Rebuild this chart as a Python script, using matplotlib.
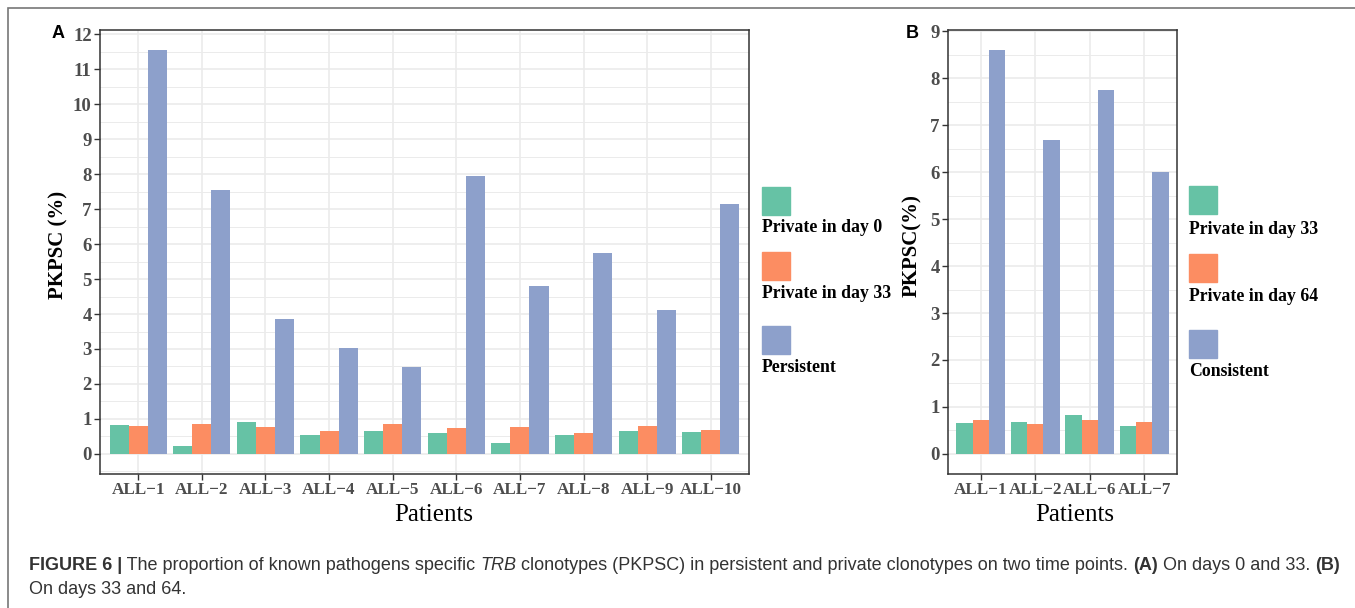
"""Two-panel grouped bar chart: PKPSC (%) by patient, private vs persistent clonotypes."""
import numpy as np
import matplotlib
matplotlib.use('Agg')
import matplotlib.pyplot as plt
from matplotlib.patches import Rectangle
from matplotlib.ticker import MultipleLocator

# ---- data ----
patients_a = ['ALL−1', 'ALL−2', 'ALL−3', 'ALL−4', 'ALL−5',
              'ALL−6', 'ALL−7', 'ALL−8', 'ALL−9', 'ALL−10']
priv_d0 = [0.83, 0.23, 0.92, 0.53, 0.65, 0.59, 0.32, 0.55, 0.66, 0.62]
priv_d33_a = [0.81, 0.86, 0.76, 0.66, 0.84, 0.75, 0.77, 0.61, 0.79, 0.68]
persistent = [11.55, 7.54, 3.85, 3.02, 2.49, 7.95, 4.79, 5.75, 4.12, 7.15]
labels_a = ['Private in day 0', 'Private in day 33', 'Persistent']

patients_b = ['ALL−1', 'ALL−2', 'ALL−6', 'ALL−7']
priv_d33_b = [0.66, 0.68, 0.83, 0.59]
priv_d64 = [0.73, 0.63, 0.71, 0.67]
consistent = [8.60, 6.68, 7.75, 6.01]
labels_b = ['Private in day 33', 'Private in day 64', 'Consistent']

COLS = ['#66C2A5', '#FC8D62', '#8DA0CB']
W, H = 1355, 608
SERIF = ['Liberation Serif', 'DejaVu Serif']
SANS = ['Liberation Sans', 'DejaVu Sans']

fig = plt.figure(figsize=(W / 100, H / 100), dpi=100)


def fx(x):
    return x / W


def fy(y):
    return 1 - y / H


def add_panel(left, right, top, bottom, cats, series, ystep):
    ax = fig.add_axes([fx(left), fy(bottom), fx(right - left), (bottom - top) / H])
    x = np.arange(len(cats))
    for k, (vals, c) in enumerate(zip(series, COLS)):
        ax.bar(x + (k - 1) * 0.3, vals, width=0.3, color=c, zorder=3)
    ymax = max(max(s) for s in series)
    ax.set_ylim(-0.05 * ymax, 1.05 * ymax)
    ax.set_xlim(-0.6, len(cats) - 0.4)
    ax.yaxis.set_major_locator(MultipleLocator(ystep))
    ax.yaxis.set_minor_locator(MultipleLocator(ystep / 2))
    ax.set_xticks(x)
    ax.set_xticklabels(cats)
    ax.grid(which='major', color='#EBEBEB', lw=1.2, zorder=0)
    ax.grid(which='minor', axis='y', color='#EBEBEB', lw=0.7, zorder=0)
    ax.tick_params(which='minor', length=0)
    ax.tick_params(which='major', length=4, width=1, color='#333333',
                   labelcolor='#4D4D4D', pad=2)
    ax.tick_params(axis='x', labelsize=12.3)
    ax.tick_params(axis='y', labelsize=13.5)
    for lab in ax.get_xticklabels() + ax.get_yticklabels():
        lab.set_fontfamily(SERIF)
        lab.set_fontweight('bold')
    for s in ax.spines.values():
        s.set_color('#333333')
        s.set_linewidth(1.1)
    return ax


axA = add_panel(100, 749, 30, 474, patients_a, [priv_d0, priv_d33_a, persistent], 1)
axB = add_panel(948, 1177, 30, 474, patients_b, [priv_d33_b, priv_d64, consistent], 1)

# axis titles
fig.text(fx(58), fy(245), 'PKPSC (%)', rotation=90, ha='center', va='center',
         family=SERIF, weight='bold', fontsize=15)
fig.text(fx(912), fy(246), 'PKPSC(%)', rotation=90, ha='center', va='center',
         family=SERIF, weight='bold', fontsize=15)
fig.text(fx(434), fy(515), 'Patients', ha='center', va='center', family=SERIF, fontsize=18)
fig.text(fx(1075), fy(515), 'Patients', ha='center', va='center', family=SERIF, fontsize=18)

# panel tags
fig.text(fx(52), fy(33), 'A', ha='left', va='center', family=SANS, weight='bold', fontsize=13)
fig.text(fx(906), fy(33), 'B', ha='left', va='center', family=SANS, weight='bold', fontsize=13)


def legend(x0, key_tops, lab_ys, labels):
    for top, ly, lab, c in zip(key_tops, lab_ys, labels, COLS):
        fig.patches.append(Rectangle((fx(x0), fy(top + 28)), fx(28), 28 / H,
                                     transform=fig.transFigure, color=c))
        fig.text(fx(x0), fy(ly), lab, ha='left', va='center', family=SERIF,
                 weight='bold', fontsize=12.8)


legend(762, [187, 252, 326], [228, 294, 368], labels_a)
legend(1189, [186, 254, 330], [229, 296, 371], labels_b)

# outer frame
fig.patches.append(Rectangle((fx(8), -0.05), 1.2, fy(8) + 0.05, transform=fig.transFigure,
                             fill=False, edgecolor='#777777', lw=1.2))

# caption, pieced together so the bold/italic runs sit in line;
# font size is scaled so line 1 spans the same width as in the original
line1 = [('FIGURE 6 |', 'bold', 'normal'),
         (' The proportion of known pathogens specific ', 'normal', 'normal'),
         ('TRB', 'normal', 'italic'),
         (' clonotypes (PKPSC) in persistent and private clonotypes on two time points. ',
          'normal', 'normal'),
         ('(A)', 'bold', 'normal'),
         (' On days 0 and 33. ', 'normal', 'normal'),
         ('(B)', 'bold', 'normal')]
fig.canvas.draw()
rend = fig.canvas.get_renderer()
probe = []
for txt, wt, st in line1:
    t = fig.text(0, 0, txt, family=SANS, weight=wt, style=st, fontsize=10)
    probe.append(t.get_window_extent(rend).width)
    t.remove()
cap_fs = 10 * (1341 - 29) / sum(probe)

xcur = 29
for txt, wt, st in line1:
    t = fig.text(fx(xcur), fy(565), txt, ha='left', va='center', family=SANS,
                 weight=wt, style=st, fontsize=cap_fs, color='#333333')
    xcur += t.get_window_extent(rend).width
fig.text(fx(29), fy(590), 'On days 33 and 64.', ha='left', va='center', family=SANS,
         fontsize=cap_fs, color='#333333')

fig.savefig('out.png', dpi=100)
